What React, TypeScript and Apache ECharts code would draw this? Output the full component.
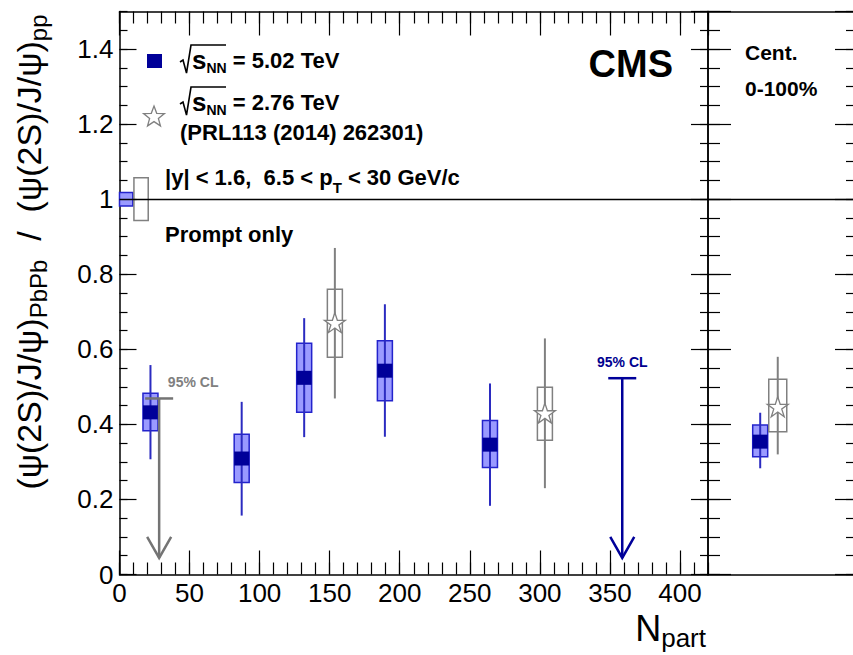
import React, { useEffect, useRef } from "react";
import * as echarts from "echarts";

// ---------------- data ----------------
// sqrt(sNN) = 5.02 TeV, centrality bins
const nPart502 = [22.1, 87.2, 131.8, 189.4, 264.4];
const ratio502 = [0.432, 0.309, 0.524, 0.543, 0.346];
const statLow502 = [0.307, 0.157, 0.366, 0.367, 0.183];
const statHigh502 = [0.558, 0.46, 0.683, 0.72, 0.509];
const systLow502 = [0.383, 0.245, 0.432, 0.463, 0.285];
const systHigh502 = [0.483, 0.374, 0.616, 0.623, 0.41];

// sqrt(sNN) = 2.76 TeV (PRL113 (2014) 262301)
const nPart276 = [153.7, 303.6];
const ratio276 = [0.671, 0.43];
const statLow276 = [0.469, 0.23];
const statHigh276 = [0.87, 0.629];
const systLow276 = [0.579, 0.358];
const systHigh276 = [0.76, 0.499];

// 95% CL upper limits
const limitNpart502 = [358.8];
const limitValue502 = [0.523];
const limitNpart276 = [28.3];
const limitValue276 = [0.469];
const limitArrowTip = [0.044];

// global uncertainties at ratio = 1
const globalRange502 = [0, 9.5];
const globalUnc502 = [0.018];
const globalRange276 = [10.3, 20.5];
const globalUnc276 = [0.057];

// integrated 0-100% panel: [5.02 TeV, 2.76 TeV]
const intSlot = [0.348, 0.465];
const intRatio = [0.354, 0.447];
const intStatLow = [0.283, 0.32];
const intStatHigh = [0.431, 0.58];
const intSystLow = [0.314, 0.38];
const intSystHigh = [0.398, 0.52];

// tick labels
const xTickLabels = ["0", "50", "100", "150", "200", "250", "300", "350", "400"];
const yTickLabels = ["0", "0.2", "0.4", "0.6", "0.8", "1", "1.2", "1.4"];

// ---------------- styles ----------------
const FONT = "'Liberation Sans', Arial, Helvetica, sans-serif";
const BLUE_MARK = "#000099";
const BLUE_FILL = "#9a9aff";
const BLUE_EDGE = "#2323cc";
const BLUE_LINE = "#2b2bc0";
const GRAY = "#808080";
const ARROW_GRAY = "#747474";
const ARROW_BLUE = "#00009a";
const STAR_PATH =
  "path://M0,-1L0.2245,-0.309L0.951,-0.309L0.363,0.118L0.588,0.809L0,0.382L-0.588,0.809L-0.363,0.118L-0.951,-0.309L-0.2245,-0.309Z";

const fmtLabel = (list: string[]) => (v: number) => {
  const s = String(+Number(v).toFixed(3));
  return list.includes(s) ? s : "";
};

const frameLine = { color: "#000", width: 1.5 };
const tickLine = { color: "#000", width: 1.2 };

function valueAxis(o: any) {
  return {
    type: "value",
    splitLine: { show: false },
    axisLine: { show: !!o.line, onZero: false, lineStyle: frameLine },
    axisTick: { show: o.tick > 0, inside: true, length: o.tick || 0, lineStyle: tickLine },
    axisLabel: o.labels
      ? {
          show: true,
          margin: o.margin,
          fontSize: o.fontSize,
          fontFamily: FONT,
          color: "#000",
          showMaxLabel: false,
          formatter: o.labels,
        }
      : { show: false },
    ...o.base,
  };
}

const starPoints = (cx: number, cy: number, R: number, r: number) => {
  const pts: number[][] = [];
  for (let i = 0; i < 10; i++) {
    const a = -Math.PI / 2 + (i * Math.PI) / 5;
    const rad = i % 2 === 0 ? R : r;
    pts.push([cx + rad * Math.cos(a), cy + rad * Math.sin(a)]);
  }
  return pts;
};

const makePointRenderer =
  (o: { fill: string; edge: string; line: string; marker?: string; halfW: number }) =>
  (_params: any, api: any) => {
    const x = api.value(0);
    const c = api.coord([x, api.value(1)]);
    const sLo = api.coord([x, api.value(2)]);
    const sHi = api.coord([x, api.value(3)]);
    const bLo = api.coord([x, api.value(4)]);
    const bHi = api.coord([x, api.value(5)]);
    const children: any[] = [
      {
        type: "rect",
        shape: { x: c[0] - o.halfW, y: bHi[1], width: 2 * o.halfW, height: bLo[1] - bHi[1] },
        style: { fill: o.fill, stroke: o.edge, lineWidth: 1.5 },
      },
      {
        type: "line",
        shape: { x1: c[0], y1: sHi[1], x2: c[0], y2: sLo[1] },
        style: { stroke: o.line, lineWidth: 2 },
      },
    ];
    if (o.marker) {
      children.push({
        type: "rect",
        shape: { x: c[0] - 7.5, y: c[1] - 7, width: 15, height: 14 },
        style: { fill: o.marker },
      });
    }
    return { type: "group", children };
  };

const makeArrowRenderer =
  (color: string, labelColor: string, labelDx: number) => (_params: any, api: any) => {
    const x = api.value(0);
    const top = api.coord([x, api.value(1)]);
    const tip = api.coord([x, api.value(2)]);
    return {
      type: "group",
      children: [
        {
          type: "line",
          shape: { x1: top[0] - 14, y1: top[1], x2: top[0] + 14, y2: top[1] },
          style: { stroke: color, lineWidth: 2.5 },
        },
        {
          type: "line",
          shape: { x1: top[0], y1: top[1], x2: tip[0], y2: tip[1] },
          style: { stroke: color, lineWidth: 2.5 },
        },
        {
          type: "polyline",
          shape: {
            points: [
              [tip[0] - 12, tip[1] - 21],
              [tip[0], tip[1]],
              [tip[0] + 12, tip[1] - 21],
            ],
          },
          style: { stroke: color, lineWidth: 2.5, fill: "none" },
        },
        {
          type: "text",
          x: top[0] + labelDx,
          y: top[1] - 16,
          style: {
            text: "95% CL",
            fill: labelColor,
            font: `bold 14px ${FONT}`,
            align: "center",
            verticalAlign: "middle",
            textAlign: "center",
            textVerticalAlign: "middle",
          },
        },
      ],
    };
  };

const makeGlobalRenderer = (fill: string, edge: string) => (_params: any, api: any) => {
  const p0 = api.coord([api.value(0), api.value(1) + api.value(3)]);
  const p1 = api.coord([api.value(2), api.value(1) - api.value(3)]);
  return {
    type: "rect",
    shape: { x: p0[0], y: p0[1], width: p1[0] - p0[0], height: p1[1] - p0[1] },
    style: { fill, stroke: edge, lineWidth: 1.5 },
  };
};

const unityLine = {
  silent: true,
  symbol: ["none", "none"],
  label: { show: false },
  lineStyle: { color: "#000", width: 1.3, type: "solid" },
  emphasis: { disabled: true },
  data: [{ yAxis: 1 }],
};

const rtext = (x: number, y: number, text: string, rich: any, extra: any = {}) => ({
  type: "text",
  x,
  y,
  ...extra,
  style: {
    text,
    rich,
    align: extra.align || "left",
    textAlign: extra.align || "left",
    verticalAlign: "middle",
    textVerticalAlign: "middle",
  },
});

const tok = (size: number, lh: number, bold = true, sub = false) => ({
  fontSize: size,
  fontFamily: FONT,
  fontWeight: bold ? "bold" : "normal",
  lineHeight: lh,
  fill: "#000",
  color: "#000",
  ...(sub ? { verticalAlign: "bottom" } : {}),
});

function buildOption() {
  const d502 = nPart502.map((x, i) => [x, ratio502[i], statLow502[i], statHigh502[i], systLow502[i], systHigh502[i]]);
  const d276 = nPart276.map((x, i) => [x, ratio276[i], statLow276[i], statHigh276[i], systLow276[i], systHigh276[i]]);
  const dInt502 = [[intSlot[0], intRatio[0], intStatLow[0], intStatHigh[0], intSystLow[0], intSystHigh[0]]];
  const dInt276 = [[intSlot[1], intRatio[1], intStatLow[1], intStatHigh[1], intSystLow[1], intSystHigh[1]]];
  const xf = fmtLabel(xTickLabels);
  const yf = fmtLabel(yTickLabels);

  const xMain = { gridIndex: 0, min: 0, max: 420 };
  const yMain = { gridIndex: 0, min: 0, max: 1.5 };
  const xInt = { gridIndex: 1, min: 0, max: 1 };
  const yInt = { gridIndex: 1, min: 0, max: 1.5 };

  return {
    animation: false,
    backgroundColor: "#fff",
    grid: [
      { left: 119.5, top: 11.5, width: 588.5, height: 563, outerBoundsMode: "none", containLabel: false },
      { left: 708, top: 11.5, width: 150, height: 563, outerBoundsMode: "none", containLabel: false },
    ],
    xAxis: [
      valueAxis({ base: { ...xMain, position: "bottom", interval: 50 }, line: true, tick: 24, labels: xf, margin: 5, fontSize: 26 }),
      valueAxis({ base: { ...xMain, position: "bottom", interval: 10 }, tick: 12 }),
      valueAxis({ base: { ...xMain, position: "top", interval: 50 }, line: true, tick: 24 }),
      valueAxis({ base: { ...xMain, position: "top", interval: 10 }, tick: 12 }),
      valueAxis({ base: { ...xInt, position: "bottom" }, line: true, tick: 0 }),
      valueAxis({ base: { ...xInt, position: "top" }, line: true, tick: 0 }),
    ],
    yAxis: [
      valueAxis({ base: { ...yMain, position: "left", interval: 0.2 }, line: true, tick: 17, labels: yf, margin: 6, fontSize: 26 }),
      valueAxis({ base: { ...yMain, position: "left", interval: 0.05 }, tick: 8 }),
      valueAxis({ base: { ...yMain, position: "right", interval: 0.2 }, line: true, tick: 17 }),
      valueAxis({ base: { ...yMain, position: "right", interval: 0.05 }, tick: 8 }),
      valueAxis({ base: { ...yInt, position: "left", interval: 0.2 }, line: true, tick: 23 }),
      valueAxis({ base: { ...yInt, position: "left", interval: 0.05 }, tick: 12 }),
      valueAxis({ base: { ...yInt, position: "right", interval: 0.2 }, line: false, tick: 23 }),
      valueAxis({ base: { ...yInt, position: "right", interval: 0.05 }, tick: 12 }),
    ],
    series: [
      {
        type: "custom",
        name: "global 5.02",
        xAxisIndex: 0,
        yAxisIndex: 0,
        renderItem: makeGlobalRenderer(BLUE_FILL, BLUE_EDGE),
        data: [[globalRange502[0], 1, globalRange502[1], globalUnc502[0]]],
        z: 2,
      },
      {
        type: "custom",
        name: "global 2.76",
        xAxisIndex: 0,
        yAxisIndex: 0,
        renderItem: makeGlobalRenderer("none", GRAY),
        data: [[globalRange276[0], 1, globalRange276[1], globalUnc276[0]]],
        z: 2,
      },
      {
        type: "custom",
        name: "5.02 TeV",
        xAxisIndex: 0,
        yAxisIndex: 0,
        renderItem: makePointRenderer({ fill: BLUE_FILL, edge: BLUE_EDGE, line: BLUE_LINE, marker: BLUE_MARK, halfW: 7.5 }),
        data: d502,
        z: 3,
      },
      {
        type: "custom",
        name: "2.76 TeV",
        xAxisIndex: 0,
        yAxisIndex: 0,
        renderItem: makePointRenderer({ fill: "none", edge: GRAY, line: GRAY, halfW: 7.5 }),
        data: d276,
        z: 3,
      },
      {
        type: "scatter",
        name: "2.76 TeV star",
        xAxisIndex: 0,
        yAxisIndex: 0,
        symbol: STAR_PATH,
        symbolSize: [21, 20],
        itemStyle: { color: "#fff", borderColor: GRAY, borderWidth: 1.3, opacity: 1 },
        data: nPart276.map((x, i) => [x, ratio276[i]]),
        markLine: unityLine,
        z: 4,
      },
      {
        type: "custom",
        name: "UL 5.02",
        xAxisIndex: 0,
        yAxisIndex: 0,
        renderItem: makeArrowRenderer(ARROW_BLUE, "#00008f", 0),
        data: limitNpart502.map((x, i) => [x, limitValue502[i], limitArrowTip[0]]),
        z: 4,
      },
      {
        type: "custom",
        name: "UL 2.76",
        xAxisIndex: 0,
        yAxisIndex: 0,
        renderItem: makeArrowRenderer(ARROW_GRAY, GRAY, 34),
        data: limitNpart276.map((x, i) => [x, limitValue276[i], limitArrowTip[0]]),
        z: 4,
      },
      {
        type: "custom",
        name: "int 5.02",
        xAxisIndex: 4,
        yAxisIndex: 4,
        renderItem: makePointRenderer({ fill: BLUE_FILL, edge: BLUE_EDGE, line: BLUE_LINE, marker: BLUE_MARK, halfW: 7.5 }),
        data: dInt502,
        z: 3,
      },
      {
        type: "custom",
        name: "int 2.76",
        xAxisIndex: 4,
        yAxisIndex: 4,
        renderItem: makePointRenderer({ fill: "none", edge: GRAY, line: GRAY, halfW: 9 }),
        data: dInt276,
        z: 3,
      },
      {
        type: "scatter",
        name: "int 2.76 star",
        xAxisIndex: 4,
        yAxisIndex: 4,
        symbol: STAR_PATH,
        symbolSize: [21, 20],
        itemStyle: { color: "#fff", borderColor: GRAY, borderWidth: 1.3, opacity: 1 },
        data: dInt276.map((r) => [r[0], r[1]]),
        markLine: unityLine,
        z: 4,
      },
    ],
    graphic: [
      // legend 5.02
      { type: "rect", shape: { x: 147, y: 54, width: 15, height: 14 }, style: { fill: BLUE_MARK } },
      {
        type: "polyline",
        shape: { points: [[180, 62], [183, 60], [186.5, 73], [191, 45], [226, 45]] },
        style: { stroke: "#000", lineWidth: 1.6, fill: "none" },
      },
      rtext(192, 60, "{s|s}{n|NN}{t| = 5.02 TeV}", { s: tok(26, 30), n: tok(14, 14, true, true), t: tok(22, 30) }),
      // legend 2.76
      {
        type: "polygon",
        shape: { points: starPoints(154, 117, 11, 4.6) },
        style: { stroke: GRAY, lineWidth: 1.3, fill: "#fff" },
      },
      {
        type: "polyline",
        shape: { points: [[180, 104], [183, 102], [186.5, 115], [191, 87], [226, 87]] },
        style: { stroke: "#000", lineWidth: 1.6, fill: "none" },
      },
      rtext(192, 102, "{s|s}{n|NN}{t| = 2.76 TeV}", { s: tok(26, 30), n: tok(14, 14, true, true), t: tok(22, 30) }),
      rtext(180, 132, "{t|(PRL113 (2014) 262301)}", { t: tok(22, 30) }),
      rtext(165, 177, "{t||y| < 1.6,  6.5 < p}{n|T}{t| < 30 GeV/c}", { t: tok(22, 36), n: tok(15, 10, true, true) }),
      rtext(165, 234, "{t|Prompt only}", { t: tok(22, 30) }),
      rtext(673, 64, "{t|CMS}", { t: tok(38, 44) }, { align: "right" }),
      rtext(745, 52, "{t|Cent.}", { t: tok(21, 26) }),
      rtext(745, 88, "{t|0-100%}", { t: tok(21, 26) }),
      // axis titles
      rtext(
        29,
        252,
        "{m|(ψ(2S)/J/ψ)}{s|PbPb}{m|  /  (ψ(2S)/J/ψ)}{s|pp}",
        { m: tok(34, 42, false), s: tok(24, 24, false, true) },
        { align: "center", rotation: Math.PI / 2 }
      ),
      rtext(706, 628, "{m|N}{s|part}", { m: tok(36, 46, false), s: tok(26, 26, false, true) }, { align: "right" }),
    ],
  };
}

export default function App() {
  const ref = useRef<HTMLDivElement>(null);
  useEffect(() => {
    if (!ref.current) return;
    const chart = echarts.init(ref.current, null, { renderer: "svg" });
    chart.setOption(buildOption() as any);
    return () => chart.dispose();
  }, []);
  return (
    <div
      ref={ref}
      style={{ position: "fixed", left: 0, top: 0, width: 853, height: 655, background: "#fff" }}
    />
  );
}
